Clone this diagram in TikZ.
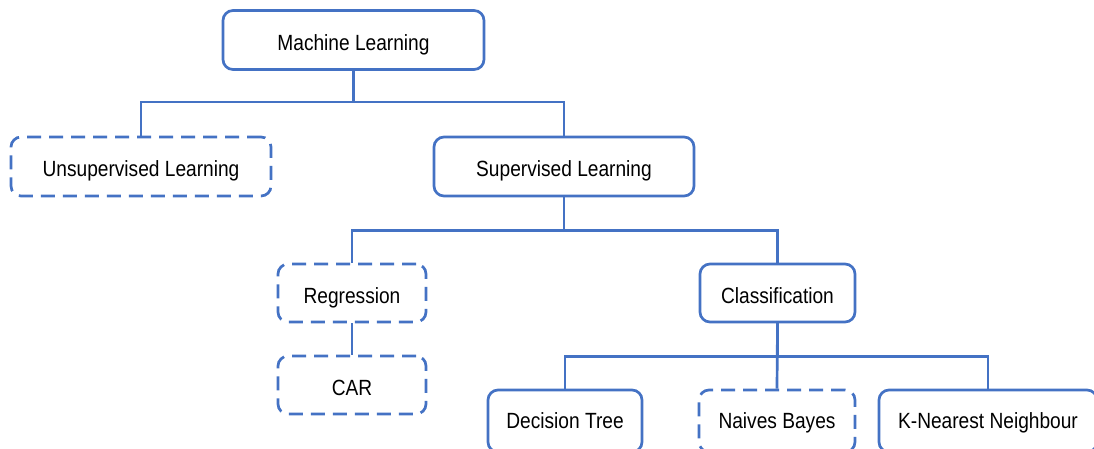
\documentclass[tikz,border=0pt]{standalone}
\usepackage{fontspec}
\setmainfont{Liberation Sans}[FakeStretch=0.87]
\definecolor{boxblue}{RGB}{68,114,196}
\begin{document}
\begin{tikzpicture}[x=1pt,y=-1pt,
  box/.style={draw=boxblue, line width=2.7pt, rounded corners=10pt, fill=white,
    minimum height=59pt, inner sep=0pt, text height=20pt, text depth=0pt,
    font=\fontsize{22}{24}\selectfont},
  dashbox/.style={box, dash pattern=on 14pt off 8pt},
  lowrow/.style={minimum height=62pt, text depth=6pt},
  link/.style={draw=boxblue, line width=2.7pt}]
\useasboundingbox (0,0) rectangle (1094,448);
% tree nodes
\node[box, minimum width=261pt] (ml) at (353.5,40) {Machine Learning};
\node[dashbox, minimum width=260pt] (unsup) at (141,166.5) {Unsupervised Learning};
\node[box, minimum width=260pt] (sup) at (564,166.5) {Supervised Learning};
\node[dashbox, minimum width=148pt, minimum height=58pt] (reg) at (352,293) {Regression};
\node[dashbox, minimum width=148pt, minimum height=58pt] (car) at (352,385) {CAR};
\node[box, minimum width=155pt, minimum height=58pt] (cls) at (777.5,293) {Classification};
\node[box, lowrow, minimum width=154pt] (dt) at (565,421) {Decision Tree};
\node[dashbox, lowrow, minimum width=156pt] (nb) at (777,421) {Naives Bayes};
\node[box, lowrow, minimum width=218pt] (knn) at (988,421) {K-Nearest Neighbour};
% connectors
\draw[link] (ml.south) -- ++(0,31) -| (unsup.north);
\draw[link] (ml.south) -- ++(0,31) -| (sup.north);
\draw[link] (sup.south) -- ++(0,33) -| (reg.north);
\draw[link] (sup.south) -- ++(0,33) -| (cls.north);
\draw[link] (reg.south) -- (car.north);
\draw[link] (cls.south) -- ++(0,33) -| (dt.north);
\draw[link] (cls.south) -- (nb.north);
\draw[link] (cls.south) -- ++(0,33) -| (knn.north);
\end{tikzpicture}
\end{document}
